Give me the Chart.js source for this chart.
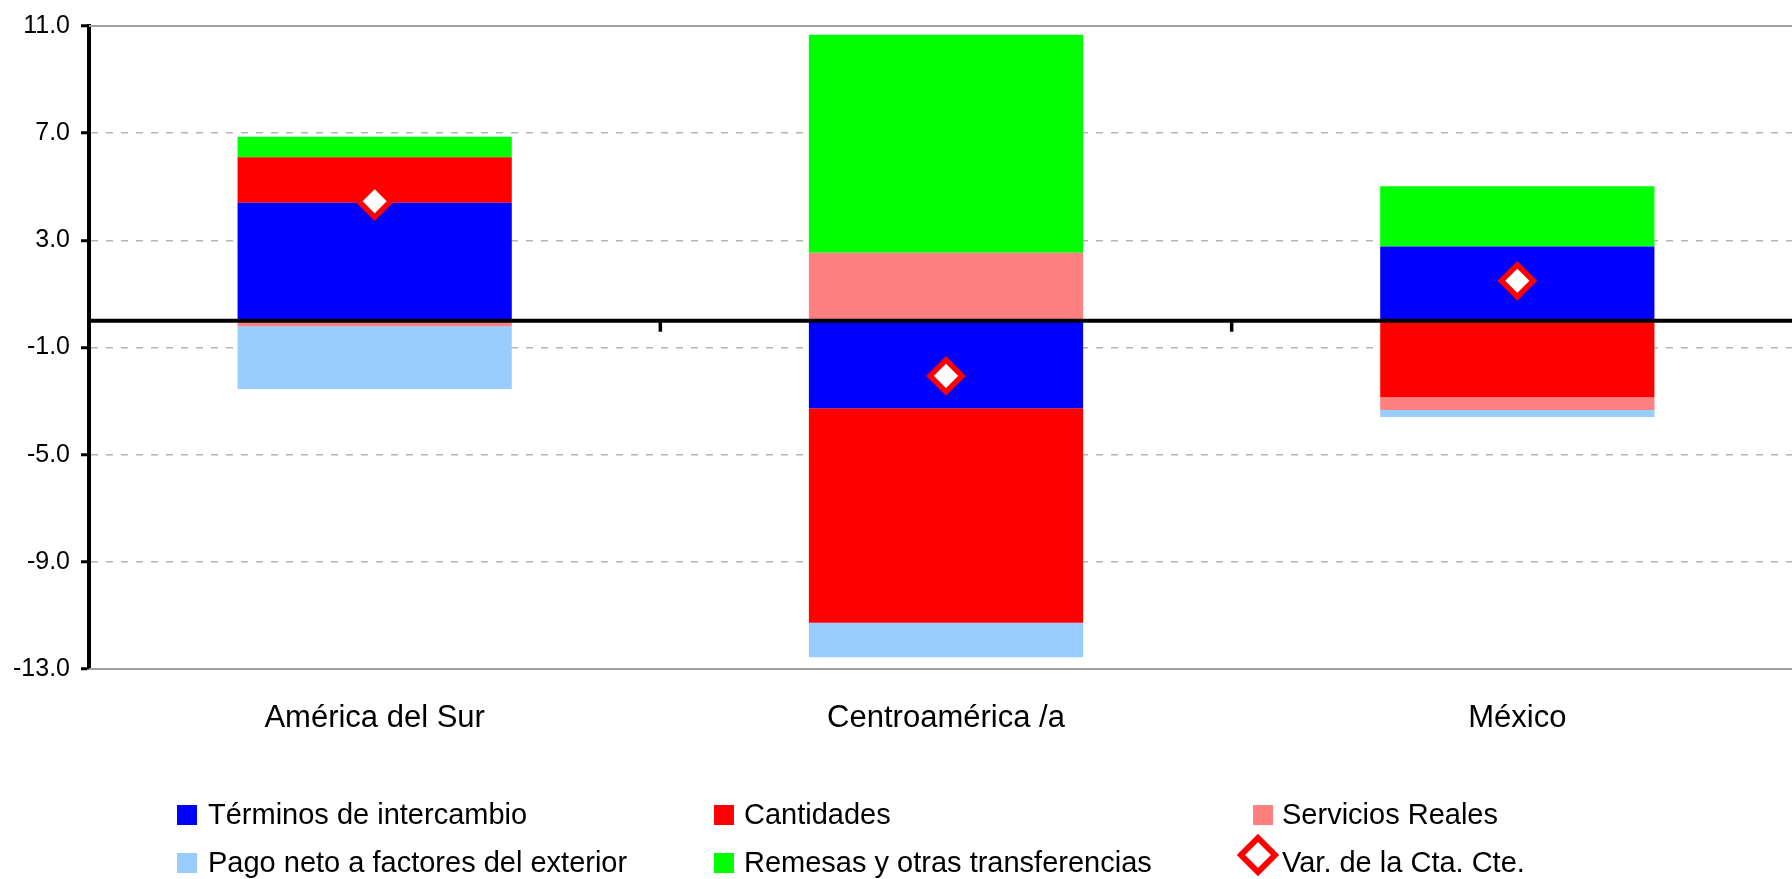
<!DOCTYPE html>
<html lang="es">
<head>
  <meta charset="UTF-8">
  <title>Descomposición de la variación de la cuenta corriente</title>
  <style>
    body {
      margin: 0;
      background: #fff;
      font-family: "Liberation Sans", Arial, sans-serif;
    }
    #wrap {
      position: relative;
      width: 1792px;
      height: 879px;
      overflow: hidden;
    }
    /* canvas a bit wider than the page: the plot runs past the right edge */
    #chart {
      position: absolute;
      left: 0;
      top: 0;
    }
    .item {
      position: absolute;
      height: 29px;
      line-height: 29px;
      font-size: 29px;
      color: #000;
      white-space: nowrap;
    }
    .swatch {
      position: absolute;
      width: 20px;
      height: 20px;
    }
  </style>
</head>
<body>
  <div id="wrap">
    <canvas id="chart" width="1803" height="879"></canvas>
    <div id="legend"></div>
  </div>

  <script src="https://cdn.jsdelivr.net/npm/chart.js"></script>
  <script>
    // Categories and values (percentage points)
    const categories = ['América del Sur', 'Centroamérica /a', 'México'];
    const terminos   = [4.40, -3.27, 2.77];
    const cantidades = [1.70, -8.00, -2.86];
    const servicios  = [-0.21, 2.54, -0.47];
    const pago       = [-2.34, -1.29, -0.26];
    const remesas    = [0.77, 8.13, 2.25];
    const varCta     = [4.46, -2.06, 1.49];

    // y axis range and step
    const yMin = -13;
    const yMax = 11;
    const yStep = 4;

    const barOpts = { stack: 'bars', barPercentage: 0.48, categoryPercentage: 1.0, borderWidth: 0 };

    // Solid top/bottom lines, thick zero line and the small ticks on it
    const axisLines = {
      id: 'axisLines',
      beforeDatasetsDraw(chart) {
        const { ctx, chartArea: a, scales: { y } } = chart;
        ctx.save();
        ctx.strokeStyle = '#a0a0a0';
        ctx.lineWidth = 2;
        [yMax, yMin].forEach(v => {
          const py = Math.round(y.getPixelForValue(v));
          ctx.beginPath();
          ctx.moveTo(a.left, py);
          ctx.lineTo(a.right, py);
          ctx.stroke();
        });
        ctx.restore();
      },
      afterDatasetsDraw(chart) {
        const { ctx, chartArea: a, scales: { x, y } } = chart;
        const line = (x1, y1, x2, y2) => {
          ctx.beginPath();
          ctx.moveTo(x1, y1);
          ctx.lineTo(x2, y2);
          ctx.stroke();
        };
        ctx.save();
        const y0 = y.getPixelForValue(0);
        ctx.strokeStyle = '#000';
        ctx.lineWidth = 4;
        line(a.left - 2, y0, a.right, y0);
        ctx.lineWidth = 3.5;
        for (let i = 1; i < categories.length; i++) {
          const px = (x.getPixelForValue(i - 1) + x.getPixelForValue(i)) / 2;
          line(px, y0, px, y0 + 11);
        }
        ctx.restore();
      }
    };

    Chart.defaults.font.family = '"Liberation Sans", Arial, sans-serif';
    Chart.defaults.color = '#000';

    const chart = new Chart(document.getElementById('chart'), {
      data: {
        labels: categories,
        datasets: [
          { type: 'bar', label: 'Términos de intercambio', data: terminos, backgroundColor: '#0000ff', ...barOpts },
          { type: 'bar', label: 'Cantidades', data: cantidades, backgroundColor: '#ff0000', ...barOpts },
          { type: 'bar', label: 'Servicios Reales', data: servicios, backgroundColor: '#ff8080', ...barOpts },
          { type: 'bar', label: 'Pago neto a factores del exterior', data: pago, backgroundColor: '#99ccff', ...barOpts },
          { type: 'bar', label: 'Remesas y otras transferencias', data: remesas, backgroundColor: '#00ff00', ...barOpts },
          {
            type: 'line', label: 'Var. de la Cta. Cte.', data: varCta, stack: 'cta', order: -1,
            showLine: false, pointStyle: 'rectRot', pointRadius: 16, pointHoverRadius: 16,
            pointBorderWidth: 5.5, borderColor: '#ff0000', backgroundColor: '#ffffff'
          }
        ]
      },
      options: {
        responsive: false,
        animation: false,
        layout: { autoPadding: false, padding: { top: 23, right: 0, bottom: 0, left: 0 } },
        plugins: {
          legend: { display: false },
          tooltip: { enabled: false }
        },
        scales: {
          x: {
            stacked: true,
            grid: { display: false },
            border: { display: false },
            ticks: { font: { size: 31 }, padding: 23, maxRotation: 0, autoSkip: false },
            afterFit(scale) { scale.height = 210; }
          },
          y: {
            stacked: true,
            min: yMin,
            max: yMax,
            ticks: {
              stepSize: yStep,
              font: { size: 25 },
              padding: 11,
              callback: v => v.toFixed(1)
            },
            grid: {
              color: c => (c.tick && (c.tick.value === yMax || c.tick.value === yMin)) ? 'rgba(0,0,0,0)' : '#b4b4b4',
              lineWidth: 1.5,
              tickColor: '#000',
              tickLength: 8,
              tickWidth: 3
            },
            border: { display: true, color: '#000', width: 4, dash: [7, 8] },
            afterFit(scale) { scale.width = 89; }
          }
        }
      },
      plugins: [axisLines]
    });

    // HTML legend in three columns, two rows
    const legendSpots = [
      { sq: 177, tx: 208, row: 0 },
      { sq: 714, tx: 744, row: 0 },
      { sq: 1253, tx: 1282, row: 0 },
      { sq: 177, tx: 208, row: 1 },
      { sq: 714, tx: 744, row: 1 },
      { sq: 1253, tx: 1282, row: 1 }
    ];
    const rowTop = [800, 848];
    const legend = document.getElementById('legend');
    chart.data.datasets.forEach((ds, k) => {
      const spot = legendSpots[k];
      const top = rowTop[spot.row];
      if (ds.type === 'line') {
        const svg = document.createElementNS('http://www.w3.org/2000/svg', 'svg');
        svg.setAttribute('width', '44');
        svg.setAttribute('height', '44');
        svg.style.position = 'absolute';
        svg.style.left = (spot.sq - 17) + 'px';
        svg.style.top = (top - 15) + 'px';
        const poly = document.createElementNS('http://www.w3.org/2000/svg', 'polygon');
        poly.setAttribute('points', '22,5 39,22 22,39 5,22');
        poly.setAttribute('fill', '#fff');
        poly.setAttribute('stroke', ds.borderColor);
        poly.setAttribute('stroke-width', '6');
        svg.appendChild(poly);
        legend.appendChild(svg);
      } else {
        const sq = document.createElement('div');
        sq.className = 'swatch';
        sq.style.left = spot.sq + 'px';
        sq.style.top = (top + 5) + 'px';
        sq.style.background = ds.backgroundColor;
        legend.appendChild(sq);
      }
      const tx = document.createElement('div');
      tx.className = 'item';
      tx.style.left = spot.tx + 'px';
      tx.style.top = top + 'px';
      tx.textContent = ds.label;
      legend.appendChild(tx);
    });
  </script>
</body>
</html>
